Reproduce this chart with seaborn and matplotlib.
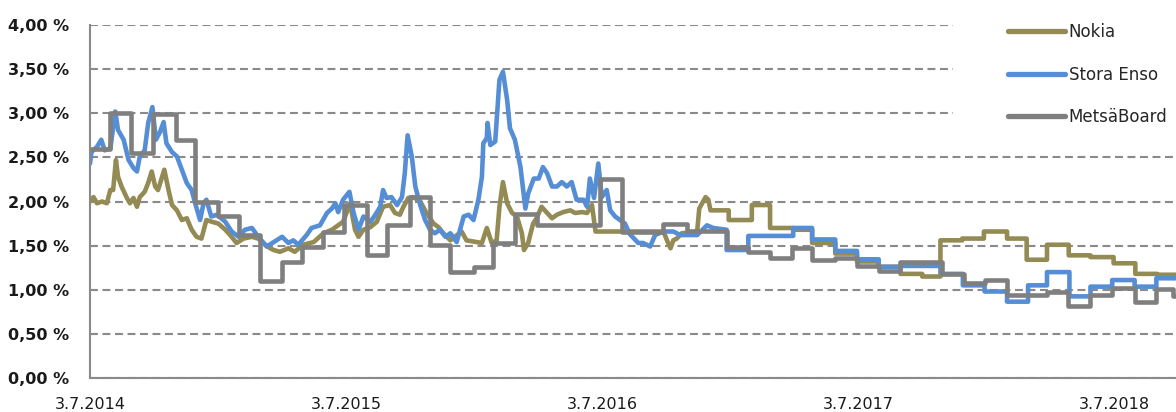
import matplotlib
matplotlib.use("Agg")
import matplotlib.pyplot as plt
import pandas as pd
import seaborn as sns
from matplotlib.patches import Rectangle
from matplotlib.lines import Line2D

# ---------------- data ----------------
start_date = "2014-07-03"
end_date = "2018-09-29"
series_names = ["Nokia", "Stora Enso", "MetsäBoard"]
colors = ["#948A54", "#558ED5", "#7F7F7F"]
tick_dates = ["2014-07-03", "2015-07-03", "2016-07-03", "2017-07-03", "2018-07-03"]
tick_labels = ["3.7.2014", "3.7.2015", "3.7.2016", "3.7.2017", "3.7.2018"]
y_ticks = [0.0, 0.5, 1.0, 1.5, 2.0, 2.5, 3.0, 3.5, 4.0]

# day offsets from start_date, values in %
nokia_days = [0, 5, 10, 17, 24, 29, 33, 37, 40, 45,
              52, 57, 62, 67, 71, 78, 83, 88, 93, 97,
              102, 106, 112, 117, 124, 131, 138, 145, 152, 159,
              166, 174, 183, 193, 202, 209, 219, 231, 240, 250,
              257, 262, 271, 283, 292, 304, 319, 333, 345, 354,
              361, 371, 378, 383, 390, 400, 409, 418, 428, 435,
              442, 447, 454, 461, 471, 480, 490, 497, 504, 514,
              530, 537, 552, 559, 566, 573, 580, 584, 589, 595,
              602, 609, 616, 619, 625, 632, 637, 644, 652, 659,
              666, 675, 685, 692, 702, 709, 716, 721, 818, 823,
              828, 832, 837, 844, 866, 869, 878, 882]
nokia_vals = [2.00, 2.05, 1.98, 2.00, 1.98, 2.13, 2.13, 2.47, 2.28, 2.17,
              2.05, 1.98, 2.04, 1.94, 2.05, 2.11, 2.21, 2.34, 2.17, 2.13,
              2.26, 2.36, 2.13, 1.96, 1.90, 1.79, 1.81, 1.68, 1.60, 1.58,
              1.79, 1.77, 1.75, 1.68, 1.60, 1.53, 1.58, 1.60, 1.58, 1.51,
              1.47, 1.45, 1.43, 1.47, 1.43, 1.51, 1.54, 1.64, 1.68, 1.73,
              1.77, 1.98, 1.68, 1.60, 1.68, 1.71, 1.77, 1.94, 1.96, 1.87,
              1.85, 1.94, 2.04, 2.05, 2.00, 1.87, 1.75, 1.71, 1.64, 1.56,
              1.66, 1.56, 1.54, 1.53, 1.70, 1.53, 1.56, 1.94, 2.22, 1.98,
              1.87, 1.83, 1.64, 1.45, 1.53, 1.75, 1.81, 1.94, 1.87, 1.81,
              1.85, 1.88, 1.90, 1.87, 1.88, 1.87, 1.96, 1.66, 1.66, 1.56,
              1.47, 1.56, 1.58, 1.64, 1.66, 1.92, 2.05, 2.02]
nokia_step_days = [885, 911, 944, 970, 1003, 1030, 1063, 1094, 1124, 1156, 1187,
                   1213, 1244, 1275, 1308, 1336, 1365, 1396, 1427, 1460, 1491, 1522]
nokia_step_vals = [1.90, 1.79, 1.96, 1.70, 1.68, 1.53, 1.41, 1.32, 1.26, 1.18, 1.15,
                   1.56, 1.58, 1.66, 1.58, 1.34, 1.51, 1.39, 1.37, 1.30, 1.18, 1.17]

stora_days = [0, 2, 10, 16, 21, 29, 36, 40, 48, 55,
              62, 67, 71, 78, 83, 89, 94, 100, 105, 109,
              117, 124, 131, 138, 145, 150, 157, 162, 166, 173,
              181, 193, 202, 212, 221, 231, 240, 252, 262, 274,
              283, 290, 297, 309, 316, 328, 338, 345, 350, 354,
              361, 370, 376, 383, 390, 400, 407, 414, 418, 423,
              430, 438, 445, 449, 453, 459, 464, 471, 478, 485,
              492, 499, 507, 514, 523, 533, 540, 547, 554, 559,
              561, 566, 567, 571, 578, 584, 589, 595, 599, 606,
              614, 621, 625, 633, 640, 646, 652, 659, 666, 673,
              680, 687, 694, 704, 709, 713, 719, 725, 730, 737,
              742, 749, 756, 763, 770, 782, 789, 799, 806, 818,
              832, 842, 866, 880, 889, 908]
stora_vals = [2.43, 2.56, 2.62, 2.70, 2.58, 2.60, 3.02, 2.81, 2.70, 2.47,
              2.38, 2.34, 2.51, 2.58, 2.89, 3.07, 2.70, 2.79, 2.90, 2.66,
              2.56, 2.51, 2.36, 2.21, 2.13, 1.98, 1.79, 1.98, 2.02, 1.83,
              1.85, 1.77, 1.66, 1.60, 1.68, 1.70, 1.60, 1.49, 1.54, 1.60,
              1.53, 1.56, 1.51, 1.62, 1.70, 1.73, 1.87, 1.92, 1.98, 1.88,
              2.02, 2.11, 1.87, 1.68, 1.83, 1.77, 1.85, 1.94, 2.13, 2.04,
              2.05, 1.96, 2.05, 2.32, 2.75, 2.51, 2.17, 1.96, 1.79, 1.68,
              1.64, 1.68, 1.60, 1.64, 1.54, 1.83, 1.85, 1.79, 2.02, 2.28,
              2.66, 2.72, 2.89, 2.64, 2.68, 3.38, 3.47, 3.15, 2.83, 2.70,
              2.39, 1.92, 2.09, 2.26, 2.26, 2.39, 2.32, 2.17, 2.17, 2.22,
              2.17, 2.22, 2.02, 2.02, 1.94, 2.26, 2.04, 2.43, 2.05, 2.13,
              1.90, 1.83, 1.79, 1.75, 1.63, 1.53, 1.53, 1.49, 1.62, 1.66,
              1.66, 1.62, 1.62, 1.73, 1.70, 1.68]
stora_step_days = [908, 939, 1003, 1030, 1063, 1094, 1125, 1156, 1214, 1245,
                   1276, 1308, 1338, 1365, 1397, 1427, 1458, 1490, 1521]
stora_step_vals = [1.45, 1.61, 1.70, 1.57, 1.44, 1.345, 1.26, 1.27, 1.18, 1.05,
                   0.98, 0.865, 1.05, 1.20, 0.925, 1.035, 1.11, 1.035, 1.13]

metsa_days = []
metsa_vals = []
metsa_step_days = [0, 29, 59, 90, 122, 150, 182, 213, 242, 274,
                   302, 332, 363, 395, 424, 457, 485, 514, 547, 575,
                   606, 637, 728, 759, 818, 851, 908, 939, 970, 1001,
                   1030, 1063, 1094, 1125, 1156, 1215, 1246, 1277, 1308, 1365,
                   1395, 1427, 1458, 1490, 1521, 1545]
metsa_step_vals = [2.60, 3.00, 2.55, 2.99, 2.70, 2.00, 1.84, 1.62, 1.10, 1.32,
                   1.49, 1.65, 1.96, 1.39, 1.73, 2.05, 1.51, 1.20, 1.26, 1.53,
                   1.86, 1.73, 2.25, 1.65, 1.745, 1.67, 1.48, 1.43, 1.36, 1.47,
                   1.34, 1.36, 1.27, 1.21, 1.32, 1.18, 1.08, 1.115, 0.94, 0.98,
                   0.82, 0.94, 1.02, 0.86, 1.01, 0.93]

# ---------------- build long table ----------------
t0 = pd.Timestamp(start_date)
end_day = (pd.Timestamp(end_date) - t0).days


def build(name, days, vals, step_days, step_vals):
    assert len(days) == len(vals) and len(step_days) == len(step_vals)
    d = list(days)
    v = list(vals)
    for i, (sd, sv) in enumerate(zip(step_days, step_vals)):
        nd = step_days[i + 1] if i + 1 < len(step_days) else end_day
        d += [sd, nd]
        v += [sv, sv]
    return pd.DataFrame({"date": t0 + pd.to_timedelta(d, unit="D"),
                         "value": v, "series": name})


df = pd.concat([
    build("Nokia", nokia_days, nokia_vals, nokia_step_days, nokia_step_vals),
    build("Stora Enso", stora_days, stora_vals, stora_step_days, stora_step_vals),
    build("MetsäBoard", metsa_days, metsa_vals, metsa_step_days, metsa_step_vals),
], ignore_index=True)

# ---------------- plot ----------------
sns.set_style("white")
plt.rcParams["font.family"] = ["DejaVu Sans"]

W, H = 1176, 412
fig = plt.figure(figsize=(W / 100, H / 100), dpi=100)
ax = fig.add_axes([90 / W, 34 / H, (W - 90) / W, 353 / H])

sns.lineplot(data=df, x="date", y="value", hue="series", hue_order=series_names,
             palette=colors, sort=False, estimator=None, linewidth=3.3,
             ax=ax, legend=False, solid_joinstyle="round", solid_capstyle="round")

ax.set_xlim(t0, pd.Timestamp(end_date))
ax.set_ylim(0, 4)
ax.set_yticks(y_ticks)
ax.set_yticklabels([f"{v:.2f} %".replace(".", ",") for v in y_ticks],
                   fontweight="bold", fontsize=11.5, color="#1a1a1a")
ax.set_xticks(pd.to_datetime(tick_dates))
ax.set_xticklabels(tick_labels, fontsize=11.5, color="#1a1a1a")
ax.set_xlabel("")
ax.set_ylabel("")

grid_c = "#8a8a8a"
ax.set_axisbelow(True)
ax.grid(axis="y", color=grid_c, linestyle=(0, (3.8, 2.2)), linewidth=1.5)
ax.grid(axis="x", visible=False)
for s in ["top", "right"]:
    ax.spines[s].set_visible(False)
for s in ["left", "bottom"]:
    ax.spines[s].set_color(grid_c)
    ax.spines[s].set_linewidth(1.5)
ax.tick_params(axis="y", direction="out", length=6, width=1.5, color=grid_c, pad=9)
ax.tick_params(axis="x", direction="out", length=6, width=1.5, color=grid_c, pad=8)

# legend area background (hides gridlines behind the legend)
ax.add_patch(Rectangle((0.7947, 0.70), 0.21, 0.32, transform=ax.transAxes,
                       facecolor="white", edgecolor="none", zorder=1, clip_on=False))

handles = [Line2D([], [], color=c, lw=3.8, solid_capstyle="round") for c in colors]
fig.legend(handles, series_names, loc="upper left",
           bbox_to_anchor=(1008 / W, 1 - 23 / H), frameon=False, fontsize=12,
           handlelength=3.4, handletextpad=0.25, labelspacing=1.47,
           borderpad=0, borderaxespad=0)

fig.savefig("out.png", dpi=100)
